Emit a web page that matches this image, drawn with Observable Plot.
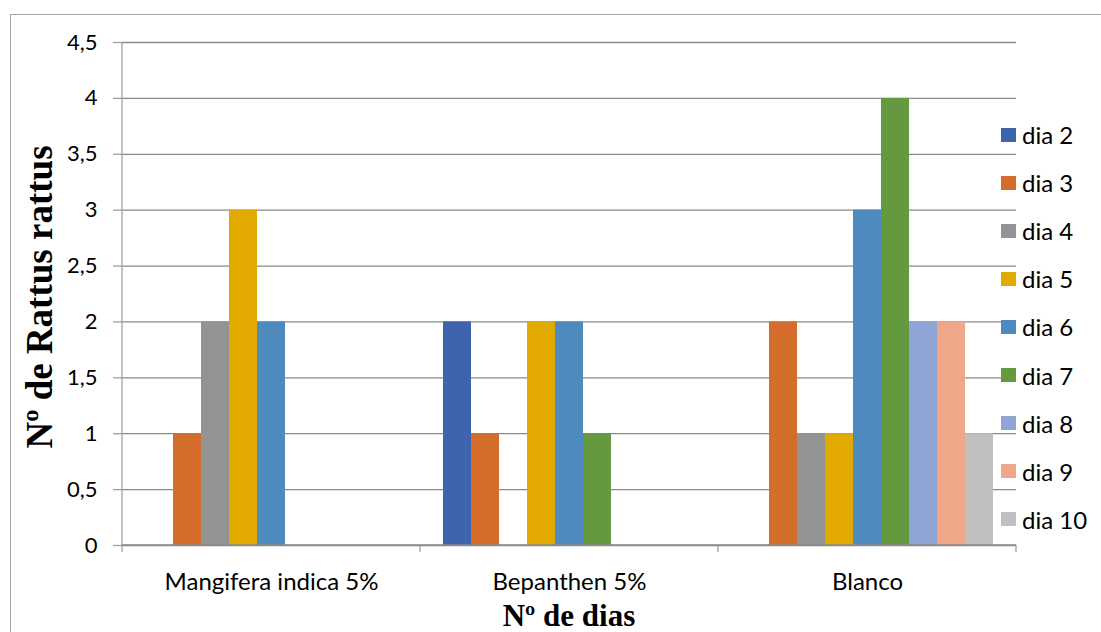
<!DOCTYPE html>
<html>
<head>
<meta charset="utf-8">
<script src="https://cdn.jsdelivr.net/npm/d3@7"></script>
<script src="https://cdn.jsdelivr.net/npm/@observablehq/plot@0.6"></script>
<style>
  body { margin: 0; background: #fff; }
  #wrap { position: relative; width: 1101px; height: 632px; overflow: hidden; background: #fff; }
  #border { position: absolute; left: 10px; top: 14px; width: 1200px; height: 800px;
            border-left: 1.5px solid #a6a6a6; border-top: 1.5px solid #a6a6a6; pointer-events: none; }
  #legend { position: absolute; left: 1001px; top: 0; font-family: Lato, sans-serif; font-size: 24px; color: #000; }
  .item { position: absolute; left: 0; display: flex; align-items: center; white-space: nowrap; height: 26px; }
  .sw { width: 15px; height: 14px; margin-right: 6px; flex: none; }
  #ytitle { position: absolute; left: 39px; top: 297px; transform: translate(-50%, -50%) rotate(-90deg);
            font-family: "Liberation Serif", serif; font-weight: bold; font-size: 37px; white-space: nowrap; line-height: 1; }
  #xtitle { position: absolute; left: 569px; top: 615px; transform: translate(-50%, -50%);
            font-family: "Liberation Serif", serif; font-weight: bold; font-size: 31px; white-space: nowrap; line-height: 1; }
</style>
</head>
<body>
<div id="wrap">
  <div id="chart"></div>
  <div id="border"></div>
  <div id="legend"></div>
  <div id="ytitle">Nº de Rattus rattus</div>
  <div id="xtitle">Nº de dias</div>
</div>
<script>
const groups = ["Mangifera indica 5%", "Bepanthen 5%", "Blanco"];
const series = ["dia 2", "dia 3", "dia 4", "dia 5", "dia 6", "dia 7", "dia 8", "dia 9", "dia 10"];
const colors = ["#3d64ad", "#d46d2b", "#939393", "#e2aa00", "#4f8abf", "#64993f", "#90a4d5", "#f0a789", "#bfbfbf"];
const mangifera = [0, 1, 2, 3, 2, 0, 0, 0, 0];
const bepanthen = [2, 1, 0, 2, 2, 1, 0, 0, 0];
const blanco = [0, 2, 1, 1, 3, 4, 2, 2, 1];
const yTicks = [0, 0.5, 1, 1.5, 2, 2.5, 3, 3.5, 4, 4.5];

const valuesByGroup = [mangifera, bepanthen, blanco];
const rows = [];
groups.forEach((g, gi) => series.forEach((s, si) => {
  const v = valuesByGroup[gi][si];
  if (v > 0) rows.push({group: g, dia: s, value: v});
}));

const gridColor = "#8a8a8a";
const chart = Plot.plot({
  width: 1101,
  height: 632,
  marginLeft: 122,
  marginRight: 85,
  marginTop: 42,
  marginBottom: 87,
  style: {fontFamily: "Lato, sans-serif", background: "transparent", color: "#000"},
  fx: {domain: groups, paddingInner: 0, paddingOuter: 0, label: null, axis: null},
  x: {domain: series, paddingInner: 0, paddingOuter: 0.74, axis: null},
  y: {domain: [0, 4.5], label: null, axis: null},
  color: {domain: series, range: colors},
  marks: [
    Plot.ruleY(yTicks, {stroke: gridColor, strokeWidth: 1.3}),
    Plot.barY(rows, {fx: "group", x: "dia", y: "value", fill: "dia"}),
    Plot.axisY({ticks: yTicks, tickSize: 9, tickPadding: 16, stroke: "#a0a0a0", strokeWidth: 1.3,
                tickFormat: d => String(d).replace(".", ","), fontSize: 22, label: null}),
    Plot.axisFx({anchor: "bottom", tickSize: 0, tickPadding: 27, fontSize: 24, label: null})
  ]
});
document.getElementById("chart").appendChild(chart);

// axis line and category boundary ticks, placed from the chart's own scales
const fx = chart.scale("fx");
const y = chart.scale("y");
const svg = d3.select(chart);
const y0 = y.apply(0), yTop = y.apply(4.5);
const bounds = groups.map(g => fx.apply(g));
bounds.push(fx.apply(groups[groups.length - 1]) + fx.bandwidth);
const g = svg.append("g").attr("stroke", "#a0a0a0").attr("stroke-width", 1.3);
g.append("line").attr("x1", bounds[0]).attr("x2", bounds[0]).attr("y1", yTop).attr("y2", y0 + 7);
bounds.slice(1).forEach(b => g.append("line").attr("x1", b).attr("x2", b).attr("y1", y0).attr("y2", y0 + 7));
svg.append("line").attr("x1", bounds[0]).attr("x2", bounds[bounds.length - 1]).attr("y1", y0).attr("y2", y0)
  .attr("stroke", gridColor).attr("stroke-width", 1.3);

// legend
const legend = d3.select("#legend");
series.forEach((s, i) => {
  const it = legend.append("div").attr("class", "item").style("top", (134.5 + 48.1 * i - 13) + "px");
  it.append("div").attr("class", "sw").style("background", colors[i]);
  it.append("span").text(s);
});
</script>
</body>
</html>
